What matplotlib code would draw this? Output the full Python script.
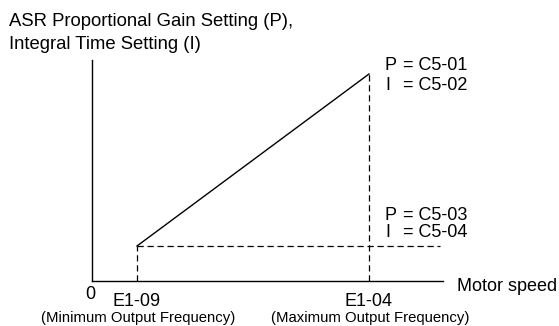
import matplotlib.pyplot as plt

plt.rcParams['font.family'] = ['Liberation Sans', 'DejaVu Sans']

# data (pixel-like units, origin at the axes corner)
speed_min = 45      # E1-09
speed_max = 277     # E1-04
gain_low = 35       # C5-03 / C5-04
gain_high = 207     # C5-01 / C5-02
axis_x_end = 351
axis_y_end = 221
dash_end = 348

fig = plt.figure(figsize=(5.59, 3.26), dpi=100)
ax = fig.add_axes([0, 0, 1, 1])
ax.set_xlim(-92, 467)
ax.set_ylim(-45, 281)
ax.axis('off')

# axes
ax.plot([0, axis_x_end], [0, 0], color='black', lw=1)
ax.plot([0, 0], [0, axis_y_end], color='black', lw=1)

# gain line
ax.plot([speed_min, speed_max], [gain_low, gain_high], color='black', lw=1)

# dashed guides
ds = dict(color='black', lw=0.9, dashes=(5, 3))
ax.plot([speed_min, speed_min], [0, gain_low], **ds)
ax.plot([speed_max, speed_max], [0, gain_high], **ds)
ax.plot([speed_min, dash_end], [gain_low, gain_low], **ds)

fs = 13
ax.text(-83, 255, 'ASR Proportional Gain Setting (P),', fontsize=13.3, va='baseline')
ax.text(-83, 232, 'Integral Time Setting (I)', fontsize=13.3, va='baseline')

lx = speed_max + 16
for y, name, val in [(211, 'P', '= C5-01'), (191, 'I', '= C5-02'),
                     (61, 'P', '= C5-03'), (44, 'I', '= C5-04')]:
    ax.text(lx, y, name, fontsize=fs, va='baseline')
    ax.text(lx + 18, y, val, fontsize=fs, va='baseline')

ax.text(365, -10, 'Motor speed', fontsize=fs, va='baseline')
ax.text(-1.5, -18, '0', fontsize=fs, ha='center', va='baseline')

for x, code, desc in [(speed_min, 'E1-09', '(Minimum Output Frequency)'),
                      (speed_max, 'E1-04', '(Maximum Output Frequency)')]:
    ax.text(x, -25, code, fontsize=fs, ha='center', va='baseline')
    ax.text(x + 1, -41, desc, fontsize=10.7, ha='center', va='baseline')

fig.savefig('out.png', dpi=100)
